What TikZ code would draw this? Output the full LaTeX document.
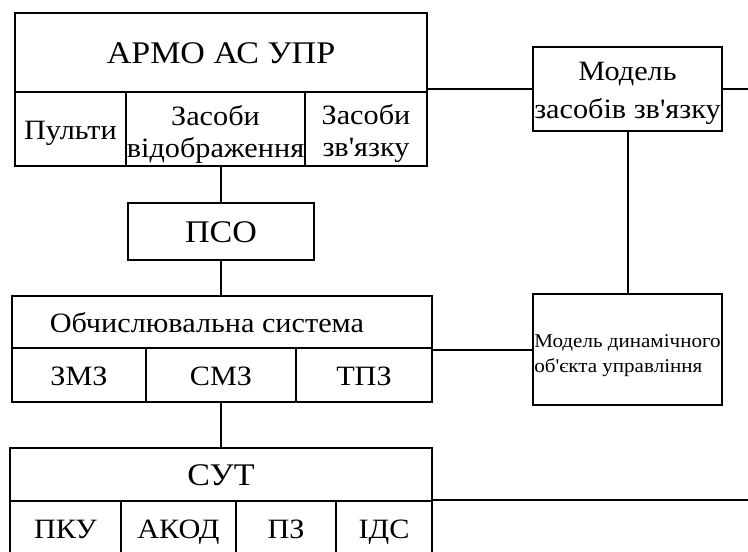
\documentclass[tikz,border=0pt]{standalone}
\usepackage{fontspec}
\setmainfont{Liberation Serif}[Ligatures=TeXOff, FakeStretch=1.08]
\newfontfamily\tnr{Liberation Serif}[Ligatures=TeXOff, FakeStretch=1.08]
\begin{document}
\begin{tikzpicture}[x=1pt,y=-1pt,
  box/.style={draw, line width=2pt, inner sep=0pt, align=center},
  big/.style={font=\tnr\fontsize{31.5}{36}\selectfont, text height=25pt, text depth=3pt},
  mid/.style={font=\tnr\fontsize{28}{32}\selectfont},
  one/.style={mid, text height=23pt, text depth=3pt},
  small/.style={font=\tnr\fontsize{19.5}{25}\selectfont},
  link/.style={line width=2pt}]
\useasboundingbox (0,0) rectangle (748,552);
\clip (0,0) rectangle (748,552);
% ARMO
\node[box,big,minimum width=412pt,minimum height=79pt] (armo) at (221,52.5) {АРМО АС УПР};
\node[box,one,minimum width=111pt,minimum height=74pt] (pult) at (70.5,129) {Пульти};
\node[box,mid,minimum width=179pt,minimum height=74pt] (vid) at (215.5,129) {\rule{0pt}{30pt}Засоби\\відображення};
\node[box,mid,minimum width=122pt,minimum height=74pt] (zv) at (366,129) {\rule{0pt}{30pt}Засоби\\зв'язку};
% model of comms
\node[box,mid,minimum width=189pt,minimum height=84pt] (msz) at (627.5,89) {\rule{0pt}{27pt}Модель\\[6pt]засобів зв'язку};
% PSO
\node[box,big,minimum width=186pt,minimum height=57pt] (pso) at (221,231.5) {ПСО};
% computing system
\node[box,one,minimum width=420pt,minimum height=52pt] (obch) at (222,322) {\hspace*{-30pt}Обчислювальна система};
\node[box,one,minimum width=134pt,minimum height=54pt] (zmz) at (79,375) {ЗМЗ};
\node[box,one,minimum width=150pt,minimum height=54pt] (smz) at (221,375) {СМЗ};
\node[box,one,minimum width=136pt,minimum height=54pt] (tpz) at (364,375) {ТПЗ};
% dynamic object model
\node[box,small,align=left,minimum width=189pt,minimum height=111pt] (dyn) at (627.5,349.5) {\rule{0pt}{26pt}Модель динамічного\\об'єкта управління};
% SUT
\node[box,big,minimum width=422pt,minimum height=53pt] (sut) at (221,474.5) {СУТ};
\node[box,one,minimum width=111pt,minimum height=54pt] (pku) at (65.5,528) {ПКУ};
\node[box,one,minimum width=115pt,minimum height=54pt] (akod) at (178.5,528) {АКОД};
\node[box,one,minimum width=100pt,minimum height=54pt] (pz) at (286,528) {ПЗ};
\node[box,one,minimum width=96pt,minimum height=54pt] (ids) at (384,528) {ІДС};
% free ends
\coordinate (e1) at (748,90);
\coordinate (e2) at (748,501);
% connectors
\draw[link] (pso.north |- vid.south) -- (pso.north);
\draw[link] (pso.south) -- (pso.south |- obch.north);
\draw[link] (smz.south) -- (sut.north);
\draw[link] (msz.west -| zv.east) -- (msz.west);
\draw[link] (msz.east) -- (msz.east -| e1);
\draw[link] (msz.south) -- (dyn.north);
\draw[link] (dyn.west -| tpz.east) -- (dyn.west);
\draw[link] (ids.north east) -- (ids.north east -| e2);
\end{tikzpicture}
\end{document}
